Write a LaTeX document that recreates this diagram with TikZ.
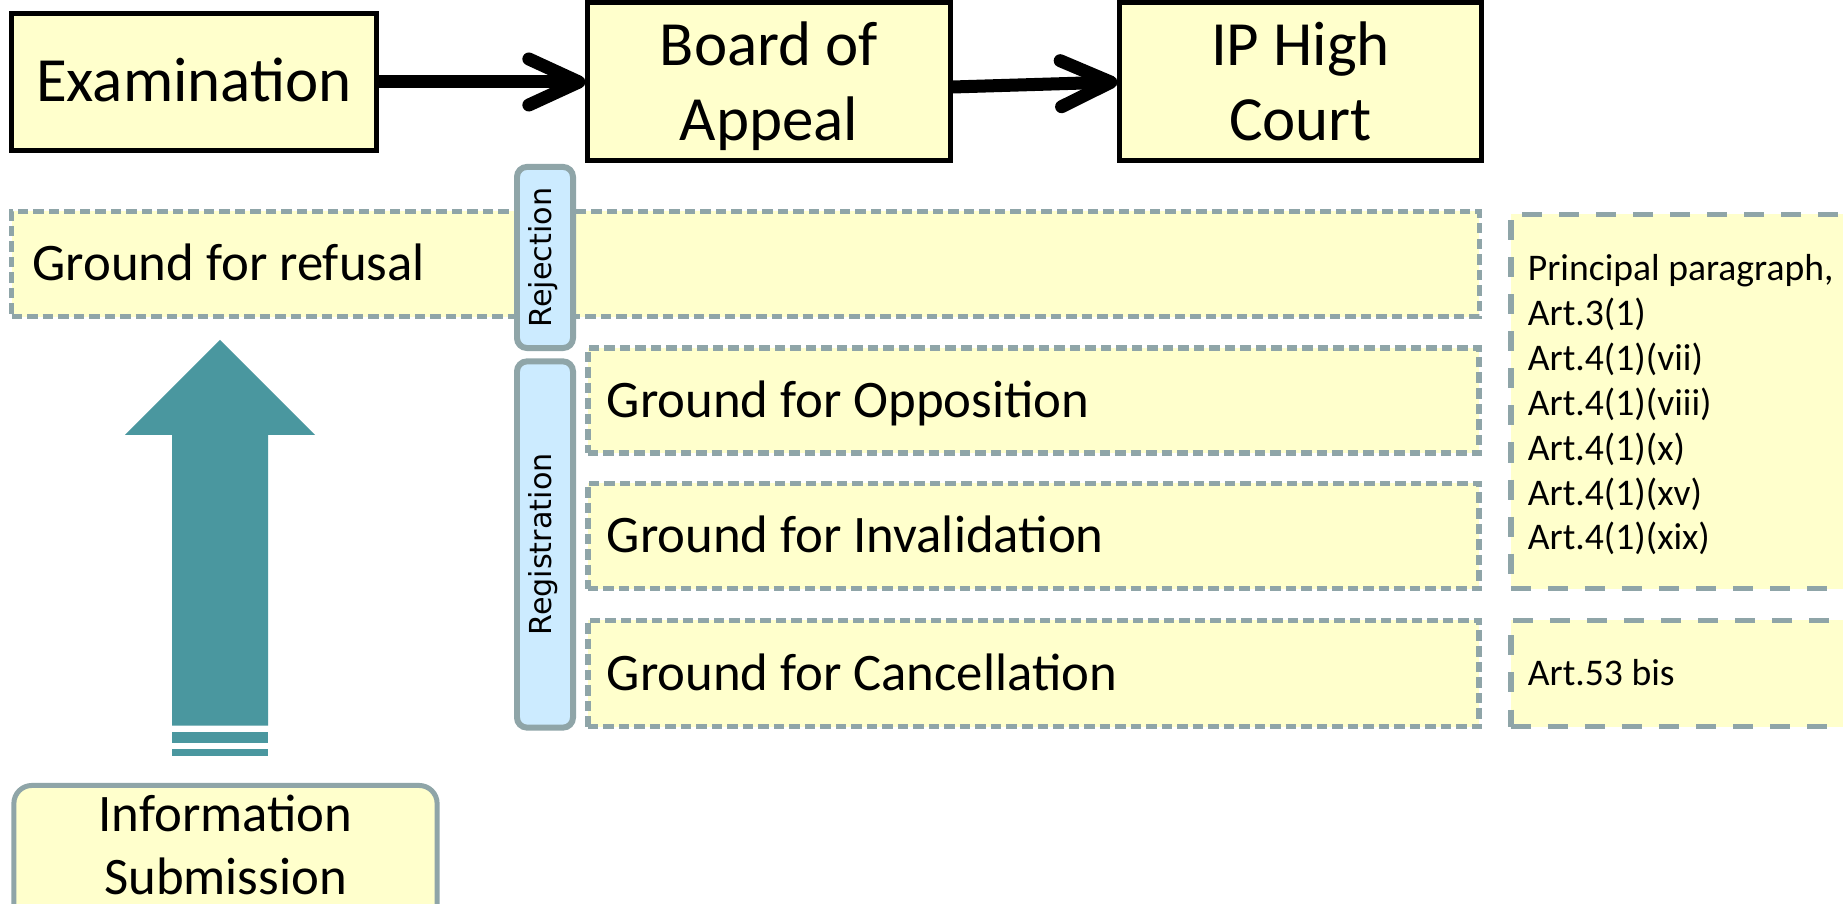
\documentclass[tikz,border=0pt]{standalone}
\usepackage{fontspec}
\setmainfont{Carlito}
\newfontfamily\vfont{DejaVu Sans}
\usetikzlibrary{arrows.meta}
\definecolor{boxfill}{HTML}{FFFFCC}
\definecolor{grayline}{HTML}{8FA5A8}
\definecolor{bluefill}{HTML}{CCEBFF}
\definecolor{arrowteal}{HTML}{4A979F}
\newcommand\mynsp{\spaceskip=0pt\xspaceskip=0pt\relax}
\newcommand\mycs{\mynsp\rule[-0.3em]{0pt}{1.232em}}
\newcommand\myvcs{\rule[-0.3em]{0pt}{1.029em}}
\newcommand\mytopst{\rule{0pt}{17.64pt}}
\newcommand\mybotst{\rule[-5.69pt]{0pt}{5.69pt}}
\begin{document}
\begin{tikzpicture}[x=0.01cm,y=-0.01cm,
  topbox/.style={draw=black,line width=1.42pt,fill=boxfill,minimum height=1.36cm,
    inner sep=0pt,align=center,font=\fontsize{17.9}{21.6}\selectfont},
  ground/.style={draw=grayline,line width=1.6pt,dash pattern=on 0.105cm off 0.05cm,
    fill=boxfill,minimum height=1.05cm,inner ysep=0pt,inner xsep=0.19cm,align=left,
    font=\fontsize{15}{18}\selectfont},
  artbox/.style={draw=grayline,line width=1.6pt,dash pattern=on 0.2cm off 0.17cm,
    fill=boxfill,minimum width=4.39cm,inner ysep=0pt,inner xsep=0.17cm,align=left,
    text width=4.05cm,font=\fontsize{10.7}{12.75}\selectfont},
  vbox/.style={rotate=90,draw=grayline,line width=1.7pt,fill=bluefill,rounded corners=0.1cm,
    minimum height=0.56cm,inner sep=0pt,font=\vfont\fontsize{8.6}{10}\selectfont},
  infobox/.style={draw=grayline,line width=1.42pt,fill=boxfill,rounded corners=0.18cm,
    minimum width=4.23cm,minimum height=1.545cm,inner sep=0pt,align=center,
    font=\fontsize{15}{17.87}\selectfont},
  conn/.style={draw=black,line width=3.7pt,-{Straight Barb[length=0.5cm,width=0.46cm,round]}}
]
\clip (0,0) rectangle (1843,904);
\fill[white] (0,0) rectangle (1843,904);

% top process boxes
\node[topbox,minimum width=3.64cm] (exam) at (194,82) {\rule[-5.69pt]{0pt}{22.68pt}Examination};
\node[topbox,minimum width=3.62cm] (board) at (769,82) {\mytopst\mynsp Board of\\Appeal\mybotst};
\node[topbox,minimum width=3.61cm] (court) at (1300.5,82) {\mytopst\mynsp IP High\\Court\mybotst};
\draw[conn] (exam.east) -- (board.west);
\draw[conn] ([yshift=-0.05cm]board.east) -- (court.west);

% ground rows
\node[ground,inner xsep=0.21cm,minimum width=14.67cm,text width=14.25cm] (refusal) at (745.5,264) {\mycs Ground for refusal};
\node[ground,minimum width=8.91cm,text width=8.53cm] (opp) at (1033.5,400.5) {\mycs Ground for Opposition};
\node[ground,minimum width=8.91cm,text width=8.53cm] (inv) at (1033.5,536) {\mycs Ground for Invalidation};
\node[ground,minimum width=8.91cm,text width=8.53cm,minimum height=1.06cm] (canc) at (1033.5,673.5) {\mycs Ground for Cancellation};

% article boxes
\node[artbox,minimum height=3.74cm] (arts) at (1730.5,401.5) {\mynsp\rule{0pt}{10.75pt}Principal paragraph,\\Art.3(1)\\Art.4(1)(vii)\\Art.4(1)(viii)\\Art.4(1)(x)\\Art.4(1)(xv)\\Art.4(1)(xix)\rule[-2.85pt]{0pt}{2.85pt}};
\node[artbox,minimum height=1.06cm] (art53) at (1730.5,673.5) {\mycs Art.53 bis};

% vertical labels
\node[vbox,minimum width=1.81cm] (rej) at (545,257.5) {\myvcs Rejection};
\node[vbox,minimum width=3.66cm] (reg) at (545,544.5) {\myvcs Registration};

% big up arrow
\fill[arrowteal] (220,340) -- (315,435) -- (268,435) -- (268,725.7) -- (172,725.7) -- (172,435) -- (125,435) -- cycle;
\fill[arrowteal] (172,731.7) rectangle (268,743.3);
\fill[arrowteal] (172,749.3) rectangle (268,755.7);

% information submission
\node[infobox] (info) at (225.5,862.75) {\rule{0pt}{11.58pt}Information\\Submission\rule[-11.38pt]{0pt}{11.38pt}};
\end{tikzpicture}
\end{document}
